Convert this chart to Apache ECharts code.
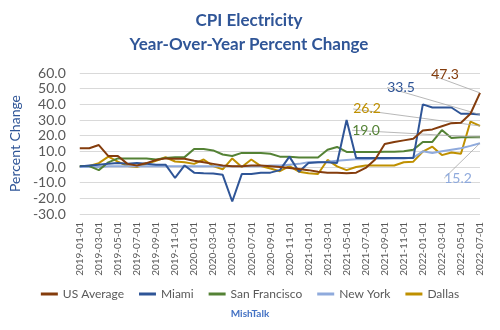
<!DOCTYPE html>
<html>
<head>
<meta charset="utf-8">
<script src="https://cdn.jsdelivr.net/npm/echarts@6/dist/echarts.min.js"></script>
<style>html,body{margin:0;padding:0;background:#fff}#c{width:500px;height:330px}</style>
</head>
<body>
<div id="c"></div>
<script>
const categories = [];
for (let y = 2019; y <= 2022; y++) {
  for (let m = 1; m <= 12; m++) {
    if (y === 2022 && m > 7) break;
    categories.push(y + '-' + String(m).padStart(2, '0') + '-01');
  }
}
const usAverage = [12,12,14,7,7,2,1,2.5,4.5,5.5,5.3,5.3, 4,3,2,1,0.5,0.5,1,1,0.5,0,-0.6,-1.3, -2,-3,-3.6,-3.6,-4,-3.6,-0.6,4.8,14.7,16,17,18, 23.3,24,26,28,28.3,34,47.3];
const miami = [0.4,1,1.5,2,2.5,2,2.5,2,1.5,1.5,-7,1, -3.6,-4,-4.2,-5,-22,-4.5,-4.5,-3.6,-3.6,-2,6.6,-3, 2.5,3,3,2.5,30,5.7,5.7,5.7,5.7,5.7,5.7,5.7, 40,38,38,38,34,34,33.5];
const sanFrancisco = [0.6,0.6,-2,3,5.5,5.5,5.5,5.5,4.8,5.7,6.3,6.3, 11.5,11.5,10.6,8,7,9,9,9,8.5,6.6,6.6,6, 6,6,11,12.8,9.6,9.6,9.6,9.6,9.8,9.8,10,11, 16,16,23.6,18.5,19,19,19.0];
const newYork = [0,0,0,0.5,0.5,0.5,0.5,0.5,0.5,0.5,0.5,0.5, 0.5,0.5,0.5,0.5,0.5,0.5,0.5,0.5,1,1,1.5,2, 3,3,3.4,4,4.5,5,5,5.2,5.3,5.5,5.5,6, 10,9,10,11,12,13.5,15.2];
const dallas = [0,0.6,2.5,6.6,3.4,0.6,0,2,4,6.2,3.5,3, 2,4.8,0.6,-1.5,5.5,0,4.8,0.6,-1,-2.7,0.6,-3, -4,-4.5,4.5,0.4,-2,0,1,1,1,1,3,3.4, 9.8,13,7.6,9.3,8.5,29,26.2];
const seriesNames = ['US Average','Miami','San Francisco','New York','Dallas'];
const seriesColors = ['#843C0C','#2F5597','#548235','#8FAADC','#BF9000'];
const seriesData = [usAverage, miami, sanFrancisco, newYork, dallas];
// callout offsets (px) for the end-value labels: US, Miami, SF, NY, Dallas
const labelShift = [[-35,-18],[-79,-27],[-114,-7],[-22,35],[-113,-17]];
const yTicks = {min: -30, max: 60, interval: 10};

const FONT = 'Lato, "Open Sans", sans-serif';
const chart = echarts.init(document.getElementById('c'), null, {renderer: 'canvas'});

const series = seriesData.map((arr, si) => ({
  name: seriesNames[si],
  type: 'line',
  data: arr.map((v, i) => i === arr.length - 1
    ? {value: v, label: {show: true}}
    : v),
  showSymbol: true,
  symbol: 'circle',
  symbolSize: 0,
  lineStyle: {color: seriesColors[si], width: 2},
  itemStyle: {color: seriesColors[si]},
  label: {
    show: false,
    position: 'inside',
    color: seriesColors[si],
    fontSize: 14,
    fontFamily: FONT,
    formatter: p => Number(p.value).toFixed(1)
  },
  labelLine: {show: true, lineStyle: {color: '#a6a6a6', width: 0.8}},
  labelLayout: p => p.dataIndex === arr.length - 1
    ? {dx: labelShift[si][0], dy: labelShift[si][1]} : {},
  emphasis: {disabled: true},
  animation: false,
  z: 10 - si
}));

chart.setOption({
  backgroundColor: '#ffffff',
  animation: false,
  title: {
    text: 'CPI Electricity\nYear-Over-Year Percent Change',
    left: 244,
    textAlign: 'center',
    top: 4,
    textStyle: {fontFamily: FONT, fontSize: 17, fontWeight: 'bold', color: '#2F5597', lineHeight: 24}
  },
  graphic: [{
    type: 'text',
    left: 'center',
    top: 309,
    style: {text: 'MishTalk', fontFamily: FONT, fontSize: 10, fontWeight: 'bold', fill: '#4472C4'}
  }],
  legend: {
    bottom: 25,
    left: 'center',
    icon: 'rect',
    itemWidth: 17,
    itemHeight: 3,
    itemGap: 15,
    textStyle: {fontFamily: FONT, fontSize: 12, color: '#595959'},
    data: seriesNames
  },
  grid: {left: 72, right: 20, top: 73, bottom: 116, containLabel: false},
  xAxis: {
    type: 'category',
    data: categories,
    boundaryGap: false,
    axisLine: {show: false},
    axisTick: {show: false},
    axisLabel: {interval: 1, rotate: 90, fontSize: 10, fontFamily: FONT, color: '#595959', margin: 8},
    splitLine: {show: false}
  },
  yAxis: {
    type: 'value',
    min: yTicks.min, max: yTicks.max, interval: yTicks.interval,
    name: 'Percent Change',
    nameLocation: 'middle',
    nameGap: 48,
    nameTextStyle: {fontFamily: FONT, fontSize: 14, color: '#2F5597'},
    axisLine: {show: false},
    axisTick: {show: false},
    axisLabel: {fontFamily: FONT, fontSize: 14, color: '#595959', margin: 14, formatter: v => v.toFixed(1)},
    splitLine: {lineStyle: {color: '#d9d9d9', width: 1}}
  },
  series: series
});
</script>
</body>
</html>
